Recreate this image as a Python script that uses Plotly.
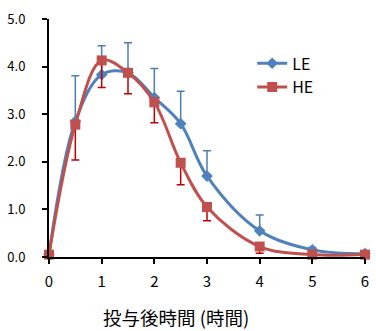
import plotly.graph_objects as go

hours = [0, 0.5, 1, 1.5, 2, 2.5, 3, 4, 5, 6]
le_vals = [0.05, 2.85, 3.83, 3.87, 3.35, 2.80, 1.70, 0.55, 0.15, 0.07]
le_err_up = [0, 0.96, 0.61, 0.63, 0.61, 0.68, 0.53, 0.33, 0.05, 0]
he_vals = [0.05, 2.78, 4.13, 3.87, 3.25, 1.98, 1.05, 0.22, 0.05, 0.05]
he_err_down = [0, 0.74, 0.57, 0.44, 0.43, 0.46, 0.29, 0.14, 0, 0]
x_ticks = [0, 1, 2, 3, 4, 5, 6]
y_ticks = [0, 1, 2, 3, 4, 5]
x_title = "投与後時間 (時間)"

blue = "#4F81BD"
red = "#C0504D"
font = "Noto Sans CJK JP, Noto Sans, sans-serif"

fig = go.Figure()
fig.add_trace(go.Scatter(
    x=hours, y=le_vals, name="LE", mode="lines+markers",
    line=dict(color=blue, width=3, shape="spline", smoothing=1),
    marker=dict(symbol="diamond", size=9, color=blue),
    error_y=dict(type="data", symmetric=False, array=le_err_up,
                 arrayminus=[0] * len(hours), color="#4A7EBB",
                 thickness=1.5, width=4),
    cliponaxis=False,
))
fig.add_trace(go.Scatter(
    x=hours, y=he_vals, name="HE", mode="lines+markers",
    line=dict(color=red, width=3, shape="spline", smoothing=1),
    marker=dict(symbol="square", size=10, color=red),
    error_y=dict(type="data", symmetric=False, array=[0] * len(hours),
                 arrayminus=he_err_down, color="#C00000",
                 thickness=1.5, width=4),
    cliponaxis=False,
))

fig.add_annotation(
    text=x_title, xref="paper", yref="paper", x=0.403, y=-0.254,
    xanchor="center", yanchor="middle", showarrow=False, borderpad=0,
    font=dict(size=18.5, family=font, color="black"),
)

fig.update_layout(
    width=376, height=331,
    margin=dict(l=48, r=7, t=19, b=74),
    paper_bgcolor="white", plot_bgcolor="white",
    font=dict(family=font, size=13, color="black"),
    showlegend=True,
    legend=dict(x=0.643, y=0.885, xanchor="left", yanchor="top",
                bgcolor="rgba(0,0,0,0)", font=dict(size=16),
                tracegroupgap=0, itemwidth=30),
    xaxis=dict(range=[0, 6], tickvals=x_ticks, ticktext=[str(v) for v in x_ticks],
               showgrid=False, zeroline=False, showline=True,
               linecolor="black", linewidth=2, ticks="outside",
               ticklen=5, tickwidth=2, tickcolor="black",
               tickfont=dict(size=15), ticklabelstandoff=5),
    yaxis=dict(range=[0, 5], tickvals=y_ticks, ticktext=[f"{v:.1f}" for v in y_ticks],
               showgrid=False, zeroline=False, showline=True,
               linecolor="black", linewidth=2, ticks="outside",
               ticklen=5, tickwidth=2, tickcolor="black",
               tickfont=dict(size=13), ticklabelstandoff=14),
)

fig.write_html("out.html")
